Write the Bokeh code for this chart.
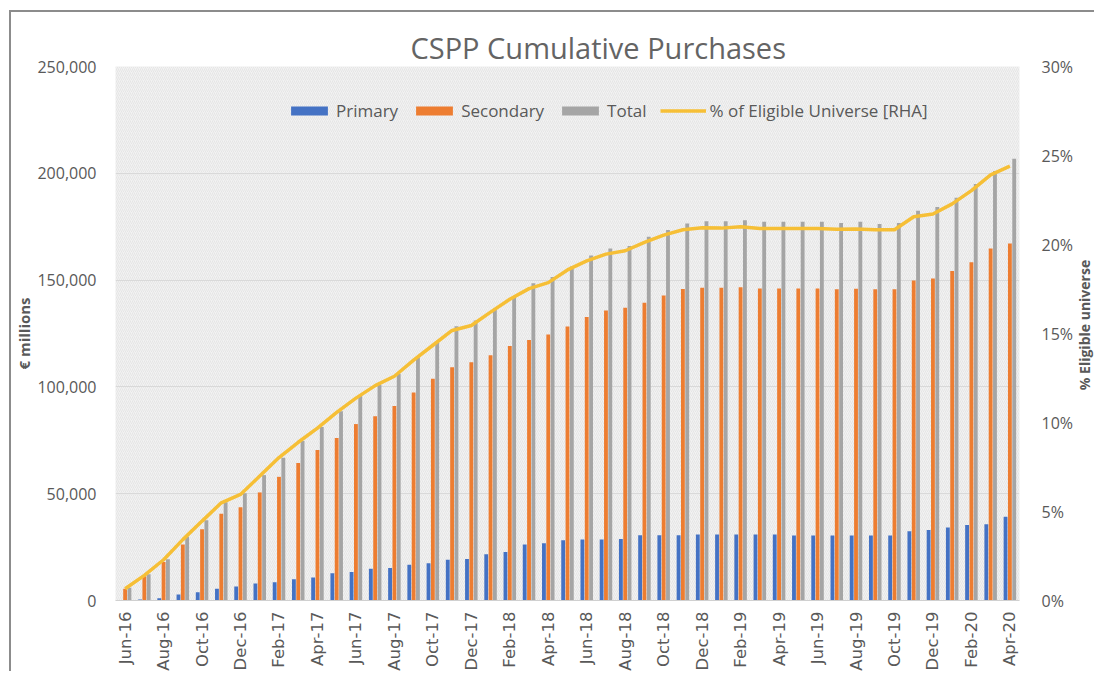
import math
from bokeh.plotting import figure
from bokeh.layouts import row
from bokeh.models import (Range1d, LinearAxis, FixedTicker, NumeralTickFormatter,
                          PrintfTickFormatter, Legend, LegendItem, BoxAnnotation,
                          ColumnDataSource)
from bokeh.core.properties import value
from bokeh.transform import dodge
from bokeh.embed import file_html
from bokeh.resources import INLINE

months = ["Jun-16", "Jul-16", "Aug-16", "Sep-16", "Oct-16", "Nov-16", "Dec-16",
          "Jan-17", "Feb-17", "Mar-17", "Apr-17", "May-17", "Jun-17", "Jul-17",
          "Aug-17", "Sep-17", "Oct-17", "Nov-17", "Dec-17", "Jan-18", "Feb-18",
          "Mar-18", "Apr-18", "May-18", "Jun-18", "Jul-18", "Aug-18", "Sep-18",
          "Oct-18", "Nov-18", "Dec-18", "Jan-19", "Feb-19", "Mar-19", "Apr-19",
          "May-19", "Jun-19", "Jul-19", "Aug-19", "Sep-19", "Oct-19", "Nov-19",
          "Dec-19", "Jan-20", "Feb-20", "Mar-20", "Apr-20"]

primary = [0, 500, 1000, 2800, 3900, 5500, 6600, 8000, 8600, 9900, 10800, 12700,
           13300, 14900, 15200, 16700, 17400, 19100, 19400, 21600, 22700, 26200,
           26800, 28200, 28500, 28500, 28800, 30500, 30500, 30500, 30900, 30900,
           30900, 30900, 30900, 30400, 30400, 30400, 30400, 30400, 30400, 32400,
           33000, 34200, 35400, 35700, 39200]

secondary = [5500, 11400, 18000, 26200, 33400, 40600, 43700, 50600, 57900, 64400,
             70500, 76100, 82600, 86300, 91000, 97400, 103800, 109200, 111500,
             114800, 119200, 121900, 124500, 128300, 132700, 135800, 137100,
             139400, 142800, 145800, 146400, 146400, 146600, 146100, 146100,
             146100, 146100, 145700, 146000, 145700, 145700, 149800, 150700,
             154300, 158400, 164800, 167100]

total = [6000, 12300, 19300, 29800, 37600, 46000, 50200, 58700, 66800, 74700,
         81200, 88600, 95800, 100900, 106100, 113800, 120800, 128400, 131100,
         136700, 142000, 148500, 151500, 156400, 161500, 164800, 166000, 170300,
         173500, 176500, 177500, 177500, 178000, 177300, 177300, 177300, 177300,
         176700, 177300, 176300, 176700, 182500, 184200, 188600, 195000, 201100,
         206800]

pct_eligible = [0.66, 1.41, 2.29, 3.42, 4.46, 5.49, 5.96, 6.99, 8.03, 8.89, 9.68,
                10.57, 11.37, 12.07, 12.6, 13.5, 14.34, 15.17, 15.45, 16.2, 16.92,
                17.52, 17.86, 18.57, 19.08, 19.46, 19.65, 20.12, 20.53, 20.83,
                20.94, 20.92, 21.0, 20.9, 20.9, 20.9, 20.9, 20.85, 20.87, 20.83,
                20.83, 21.56, 21.71, 22.28, 23.03, 23.91, 24.4]

left_ticks = [0, 50000, 100000, 150000, 200000, 250000]
right_ticks = [0, 5, 10, 15, 20, 25, 30]

TXT = "#595959"
idx = list(range(len(months)))
src = ColumnDataSource(dict(x=idx, month=months, primary=primary,
                            secondary=secondary, total=total, pct=pct_eligible))

p = figure(frame_width=902, frame_height=532,
           x_range=Range1d(-0.5, len(months) - 0.5), y_range=Range1d(0, 250000),
           output_backend="svg", toolbar_location=None,
           min_border_left=90, min_border_top=54, min_border_right=0,
           min_border_bottom=4,
           background_fill_color="#f2f2f2", border_fill_color="white",
           outline_line_color=None)
p.extra_y_ranges = {"pct": Range1d(0, 30)}
# outer chart-area border (left and top edges visible in the reference)
p.margin = (10, 0, 0, 9)
p.styles = {"border-left": "2px solid #8c8c8c", "border-top": "2px solid #8c8c8c"}

# subtle texture like the reference plot area
p.add_layout(BoxAnnotation(fill_alpha=0, line_alpha=0, hatch_pattern="/",
                           hatch_color="#e5e5e5", hatch_scale=4, hatch_weight=1,
                           level="image"))

p.title.text = "CSPP Cumulative Purchases"
p.title.align = "left"
p.title.offset = 295
p.title.text_font = "Open Sans"
p.title.text_font_size = "29px"
p.title.text_font_style = "normal"
p.title.text_color = "#646464"
p.title.standoff = 0

r1 = p.vbar(x=dodge("x", -0.225, range=p.x_range), top="primary", width=0.2,
            source=src, fill_color="#4472C4", line_color=None)
r2 = p.vbar(x=dodge("x", 0.0, range=p.x_range), top="secondary", width=0.2,
            source=src, fill_color="#ED7D31", line_color=None)
r3 = p.vbar(x=dodge("x", 0.225, range=p.x_range), top="total", width=0.2,
            source=src, fill_color="#A5A5A5", line_color=None)
r4 = p.line("x", "pct", y_range_name="pct", source=src, line_color="#F6BF36",
            line_width=3.5)

# left axis
ya = p.yaxis[0]
ya.ticker = FixedTicker(ticks=left_ticks)
ya.formatter = NumeralTickFormatter(format="0,0")
ya.axis_line_color = None
ya.major_tick_line_color = None
ya.minor_tick_line_color = None
ya.major_label_standoff = 13
ya.major_label_text_font = "Open Sans"
ya.major_label_text_font_size = "16px"
ya.major_label_text_color = TXT
ya.axis_label = "€ millions"
ya.axis_label_text_font = "Open Sans"
ya.axis_label_text_font_size = "15px"
ya.axis_label_text_font_style = "bold"
ya.axis_label_text_color = TXT
ya.axis_label_standoff = 0

# right axis (ticks)
ra = LinearAxis(y_range_name="pct", ticker=FixedTicker(ticks=right_ticks),
                formatter=PrintfTickFormatter(format="%d%%"))
ra.axis_line_color = None
ra.major_tick_line_color = None
ra.minor_tick_line_color = None
ra.major_label_standoff = 16
ra.major_label_text_font = "Open Sans"
ra.major_label_text_font_size = "16px"
ra.major_label_text_color = TXT
p.add_layout(ra, "right")

# x axis
xa = p.xaxis[0]
xa.ticker = FixedTicker(ticks=list(range(0, len(months), 2)))
xa.major_label_overrides = {i: months[i] for i in range(0, len(months), 2)}
xa.major_label_orientation = math.pi / 2
xa.axis_line_color = "#d0d0d0"
xa.major_tick_line_color = None
xa.minor_tick_line_color = None
xa.major_label_standoff = 5
xa.major_label_text_font = "DejaVu Sans"
xa.major_label_text_font_size = "16.5px"
xa.major_label_text_color = TXT

p.xgrid.grid_line_color = None
p.ygrid.grid_line_color = "#d9d9d9"
p.ygrid.grid_line_width = 1

legend = Legend(items=[LegendItem(label="Primary", renderers=[r1]),
                       LegendItem(label="Secondary", renderers=[r2]),
                       LegendItem(label="Total", renderers=[r3]),
                       LegendItem(label="% of Eligible Universe [RHA]", renderers=[r4])],
                orientation="horizontal", location=(171, 478),
                background_fill_alpha=0, border_line_color=None,
                glyph_width=46, glyph_height=11, label_standoff=4, spacing=13,
                padding=0, margin=0,
                label_text_font="Open Sans", label_text_font_size="17px",
                label_text_color=TXT)
p.add_layout(legend)

# narrow strip on the right carrying the right-hand axis title, reading
# bottom-to-top as in the reference
q = figure(width=20, height=644, x_range=Range1d(0, 1), y_range=Range1d(0, 1),
           output_backend="svg", toolbar_location=None,
           x_axis_location=None, y_axis_location=None,
           min_border_left=0, min_border_right=0, min_border_top=0,
           min_border_bottom=0, outline_line_color=None,
           background_fill_color="white", border_fill_color="white")
q.grid.visible = False
q.margin = (10, 0, 0, 0)
q.styles = {"border-top": "2px solid #8c8c8c"}
q.text(x=[0.5], y=[0.5], text=["% Eligible universe"], angle=math.pi / 2,
       text_align="center", text_baseline="middle",
       text_font=value("Open Sans"), text_font_size="14px",
       text_font_style="bold", text_color=TXT)

layout = row(p, q)
open("out.html", "w").write(file_html(layout, INLINE))
